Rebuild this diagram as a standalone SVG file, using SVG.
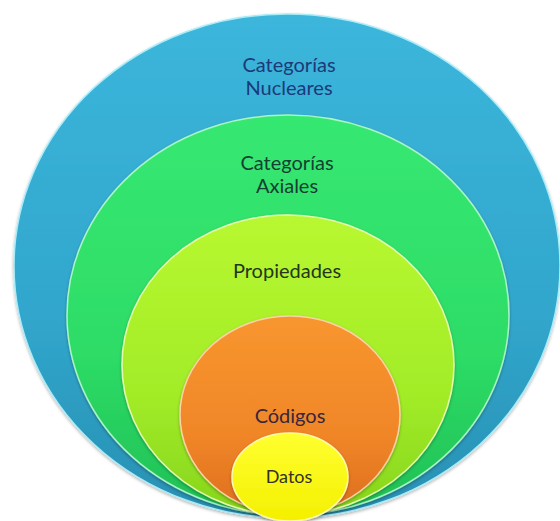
<svg xmlns="http://www.w3.org/2000/svg" width="560" height="521" viewBox="0 0 560 521">
<defs>
<linearGradient id="gBlue" x1="0" y1="0" x2="0" y2="1"><stop offset="0" stop-color="#3cb6dc"/><stop offset="0.6" stop-color="#31a6cc"/><stop offset="1" stop-color="#2890b2"/></linearGradient>
<linearGradient id="gGreen" x1="0" y1="0" x2="0" y2="1"><stop offset="0" stop-color="#36e872"/><stop offset="0.6" stop-color="#2ddc66"/><stop offset="1" stop-color="#20bf55"/></linearGradient>
<linearGradient id="gLime" x1="0" y1="0" x2="0" y2="1"><stop offset="0" stop-color="#b8f830"/><stop offset="0.6" stop-color="#a2ec28"/><stop offset="1" stop-color="#86d41c"/></linearGradient>
<linearGradient id="gOrange" x1="0" y1="0" x2="0" y2="1"><stop offset="0" stop-color="#f8962e"/><stop offset="0.6" stop-color="#f08628"/><stop offset="1" stop-color="#de6e1e"/></linearGradient>
<linearGradient id="gYellow" x1="0" y1="0" x2="0" y2="1"><stop offset="0" stop-color="#ffff30"/><stop offset="1" stop-color="#f4f000"/></linearGradient>
<filter id="sh" x="-10%" y="-10%" width="120%" height="120%"><feDropShadow dx="0" dy="1.5" stdDeviation="1.5" flood-color="#000" flood-opacity="0.3"/></filter>
</defs>
<style>
.ring{filter:url(#sh);stroke-width:1.5}
.lbl{font-family:Lato,"Open Sans","Liberation Sans",sans-serif;font-size:20px;text-anchor:middle}
</style>
<rect width="560" height="521" fill="#ffffff"/>
<g id="nucleares">
<ellipse class="ring" cx="287" cy="266" rx="273" ry="252" fill="url(#gBlue)" stroke="#a8ecf8"/>
<text class="lbl" x="289" y="72" fill="#1b3a78">Categorías</text>
<text class="lbl" x="289" y="95" fill="#1b3a78">Nucleares</text>
</g>
<g id="axiales">
<ellipse class="ring" cx="288" cy="315" rx="221" ry="200" fill="url(#gGreen)" stroke="#aaf5c4"/>
<text class="lbl" x="287" y="170" fill="#143f32">Categorías</text>
<text class="lbl" x="287" y="193" fill="#143f32">Axiales</text>
</g>
<g id="propiedades">
<ellipse class="ring" cx="288" cy="365" rx="166" ry="150" fill="url(#gLime)" stroke="#e8fcb0"/>
<text class="lbl" x="287" y="278" fill="#23361d">Propiedades</text>
</g>
<g id="codigos">
<ellipse class="ring" cx="290" cy="415" rx="110" ry="99" fill="url(#gOrange)" stroke="#fcd2a8"/>
<text class="lbl" x="290" y="423" fill="#37263c">Códigos</text>
</g>
<g id="datos">
<ellipse class="ring" cx="290" cy="477" rx="58" ry="44" fill="url(#gYellow)" stroke="#fffab0"/>
<text class="lbl" x="289" y="483" fill="#333326" style="font-size:18px">Datos</text>
</g>
<g id="connectors"/>
</svg>
